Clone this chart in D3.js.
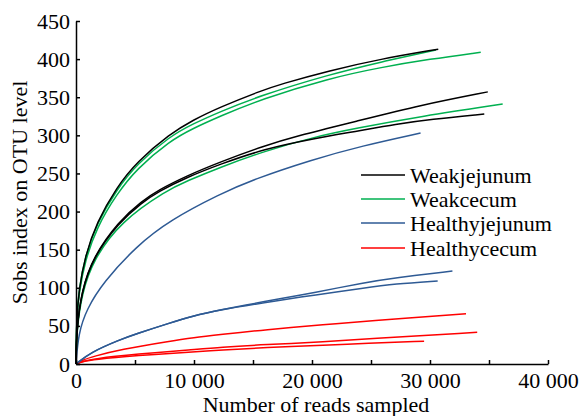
<!DOCTYPE html>
<html>
<head>
<meta charset="utf-8">
<script src="https://cdn.jsdelivr.net/npm/d3@7"></script>
<style>
  body { margin: 0; background: #fff; }
  .axis path, .axis line { stroke: #000; stroke-width: 1.5; }
  .curve { fill: none; stroke-width: 1.5; }
</style>
</head>
<body>
<svg id="Vis" width="583" height="416">
  <g id="curves"></g>
  <g id="xaxis" class="axis"></g>
  <g id="yaxis" class="axis"></g>
  <g id="legend"></g>
</svg>
<script>
/*
* DATA  (reads sampled, Sobs index)
*/

const groups = ["Weakjejunum", "Weakcecum", "Healthyjejunum", "Healthycecum"];
const colors = ["#000000", "#00b050", "#2e5a94", "#ff0000"];

const weakjejunum = [
  [[0,0],[50,60],[250,97],[760,141],[1750,186],[3450,232],[5140,265],[7970,302],[9900,320],[12200,337],[15600,358],[17300,367],[21500,385],[25760,400],[30700,413]],
  [[0,0],[50,45],[480,97],[1470,141],[3590,187],[5600,214],[6950,228],[9400,247],[12200,265],[15900,286],[18700,299],[23650,318],[29300,340],[34900,357]],
  [[0,0],[50,45],[480,96],[1470,140],[3590,185],[5600,212],[6950,226],[9400,245],[12200,262],[15900,282],[20250,296],[23650,305],[27200,315],[30000,321],[34600,328]]
];

const weakcecum = [
  [[0,0],[50,62],[250,98],[760,141],[1750,184],[3450,229],[5140,262],[7970,299],[9900,315],[12200,331],[15600,352],[21500,380],[25760,396],[30500,412]],
  [[0,0],[50,58],[250,93],[760,135],[1750,179],[3450,223],[5140,256],[7970,293],[9900,309],[12200,325],[15600,347],[21500,375],[25760,389],[30000,400],[34300,409]],
  [[0,0],[50,42],[480,92],[1470,137],[3800,187],[7700,228],[9400,240],[12200,258],[15900,279],[20250,298],[23650,309],[29300,325],[36160,341]]
];

const healthyjejunum = [
  [[0,0],[200,40],[900,72],[2300,107],[5140,155],[8000,189],[12200,223],[15000,242],[20000,268],[24200,286],[29200,303]],
  [[0,0],[1190,15],[3730,32],[5000,39],[7970,54],[9940,63],[11780,70],[17430,86],[20000,93],[24500,107],[27000,113],[31900,122]],
  [[0,0],[1190,15],[3730,32],[5000,39],[7970,54],[9940,63],[11780,70],[17430,84],[20000,90],[24500,100],[27000,105],[30650,109]]
];

const healthycecum = [
  [[0,0],[500,5],[1500,10],[3730,19],[7970,30],[9940,34.5],[12200,38.5],[16000,45],[21250,52],[24500,56],[33050,66]],
  [[0,0],[500,3],[1500,7],[5140,13],[9940,19],[12200,22],[16000,25.5],[21250,29],[24500,33],[34000,41.5]],
  [[0,0],[500,3],[1500,6],[5140,11],[9940,16],[12200,18],[16000,21.5],[21250,25],[24500,27],[29500,30]]
];

const xTicks = [0, 5000, 10000, 15000, 20000, 25000, 30000, 35000, 40000];
const xTickLabels = {0: "0", 10000: "10 000", 20000: "20 000", 30000: "30 000", 40000: "40 000"};
const yTicks = [0, 50, 100, 150, 200, 250, 300, 350, 400, 450];

const xTitle = "Number of reads sampled";
const yTitle = "Sobs index on OTU level";

const serif = "'Liberation Serif'";
const fontSize = "22px";

/*
* SETUP
*/

const svg = d3.select("svg#Vis");

const g = {
  curves: svg.select("g#curves"),
  xaxis: svg.select("g#xaxis"),
  yaxis: svg.select("g#yaxis"),
  legend: svg.select("g#legend")
};

const x = d3.scaleLinear().domain([0, 40000]).range([76, 548]);
const y = d3.scaleLinear().domain([0, 450]).range([364, 21]);

/*
* AXES
*/

const xAxis = d3.axisBottom(x)
  .tickValues(xTicks)
  .tickFormat(d => xTickLabels[d] || "")
  .tickSizeInner(-4)
  .tickSizeOuter(0)
  .tickPadding(8);

g.xaxis.attr("transform", "translate(0," + y(0) + ")").call(xAxis);

const yAxis = d3.axisLeft(y)
  .tickValues(yTicks)
  .tickSizeInner(-4)
  .tickSizeOuter(0)
  .tickPadding(6);

g.yaxis.attr("transform", "translate(" + x(0) + ",0)").call(yAxis);

svg.selectAll(".axis").attr("font-family", null).attr("font-size", null);
svg.selectAll(".axis text").style("font-family", serif).style("font-size", fontSize).attr("fill", "#000");

svg.append("text")
  .attr("x", (x(0) + x(40000)) / 2 + 4)
  .attr("y", 412)
  .attr("text-anchor", "middle")
  .style("font-family", serif)
  .style("font-size", fontSize)
  .text(xTitle);

svg.append("text")
  .attr("transform", "translate(27," + (y(0) + y(450)) / 2 + ") rotate(-90)")
  .attr("text-anchor", "middle")
  .style("font-family", serif)
  .style("font-size", fontSize)
  .text(yTitle);

/*
* CURVES
*/

const line = d3.line()
  .x(d => x(d[0]))
  .y(d => y(d[1]))
  .curve(d3.curveBasis);

const series = [weakjejunum, weakcecum, healthyjejunum, healthycecum];

series.slice().reverse().forEach(function(set, i) {
  const color = colors[series.length - 1 - i];
  g.curves.selectAll(null)
    .data(set)
    .join("path")
      .attr("class", "curve")
      .attr("stroke", color)
      .attr("d", line);
});

/*
* LEGEND
*/

const legendY = [175, 199, 223, 248];

const items = g.legend.selectAll("g.item")
  .data(groups)
  .join("g")
    .attr("class", "item")
    .attr("transform", (d, i) => translate(0, legendY[i]));

items.append("line")
  .attr("x1", 361)
  .attr("x2", 405)
  .attr("stroke", (d, i) => colors[i])
  .attr("stroke-width", 1.5);

items.append("text")
  .attr("x", 410)
  .attr("dy", "0.36em")
  .style("font-family", serif)
  .style("font-size", fontSize)
  .text(d => d);

/*
* HELPER FUNCTIONS
*/

function translate(x, y) {
  return 'translate(' + String(x) + ',' + String(y) + ')';
}
</script>
</body>
</html>
